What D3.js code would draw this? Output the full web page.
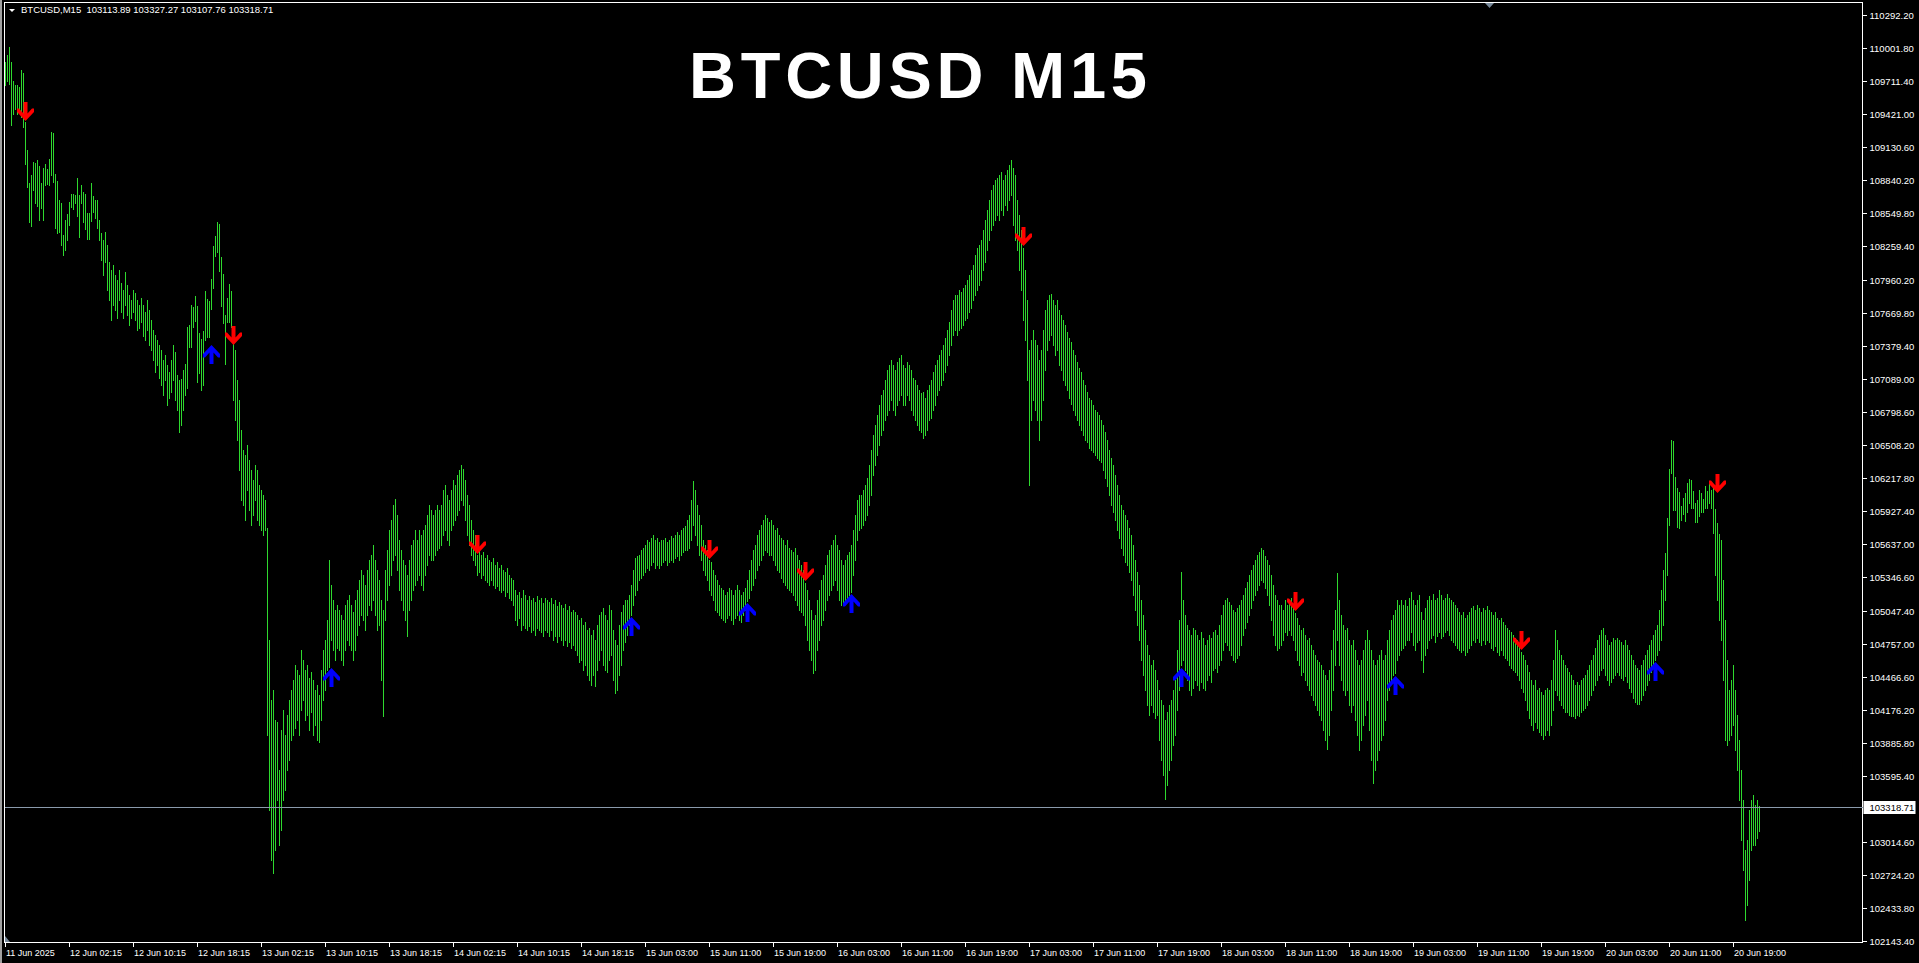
<!DOCTYPE html>
<html><head><meta charset="utf-8">
<script src="https://cdn.jsdelivr.net/npm/d3@7"></script>
<style>html,body{margin:0;padding:0;background:#000;overflow:hidden}</style>
</head><body>
<svg id="c" width="1919" height="963"></svg>
<script>
// ---- DATA (BTCUSD M15, one value per bar) ----
const highs = [
109878,109940,110010,109878,109711,109676,109676,109658,109808,109782,
109350,109104,108814,108884,108998,108990,109016,108963,108814,108946,
108981,108937,109025,109262,109254,108893,108831,108664,108638,108356,
108488,108541,108646,108717,108717,108708,108858,108708,108796,108734,
108717,108550,108550,108814,108699,108664,108664,108488,108374,108312,
108382,108268,108118,108048,108092,108004,107960,108048,107934,107872,
108030,107916,107828,107784,107872,107846,107784,107740,107802,107740,
107678,107784,107696,107608,107520,107476,107432,107388,107344,107256,
107300,107212,107150,107256,107388,107326,107124,107080,107089,107168,
107221,107546,107564,107740,107722,107819,107731,107494,107441,107511,
107863,107793,107775,107969,108259,108347,108470,108453,108162,108013,
107652,107802,107925,107863,107397,107344,107080,106904,106640,106464,
106420,106508,106376,106288,106200,106332,106288,106156,106112,106068,
106024,105778,104792,104264,104352,104088,104070,103648,104000,104176,
103956,104132,104264,104352,104440,104572,104528,104484,104704,104616,
104528,104572,104458,104510,104440,104352,104396,104308,104528,104704,
104792,104968,105496,105276,105144,105056,105100,105056,105012,104968,
105100,105144,105188,105100,105038,105144,105232,105320,105408,105364,
105276,105408,105496,105540,105628,105496,105408,105320,105144,105056,
105408,105584,105760,105848,105980,106033,105892,105672,105584,105496,
105452,105364,105496,105628,105672,105760,105672,105760,105716,105760,
105804,105892,105980,105936,105892,105936,105980,105936,105980,106112,
106156,106068,106024,106112,106200,106156,106244,106288,106332,106297,
106200,106068,105980,105848,105760,105716,105540,105584,105540,105566,
105514,105540,105496,105478,105514,105452,105478,105426,105452,105408,
105390,105426,105364,105338,105320,105232,105188,105214,105162,105232,
105188,105144,105179,105144,105162,105126,105179,105144,105162,105118,
105162,105144,105126,105162,105109,105144,105091,105126,105100,105074,
105109,105056,105091,105038,105056,105038,105012,104968,104986,104924,
104950,104880,104898,104836,104880,104792,104924,105012,105038,105074,
105012,104968,105100,105056,104880,104792,104748,104924,105038,105100,
105144,105144,105188,105276,105408,105514,105531,105540,105584,105602,
105628,105672,105654,105690,105716,105672,105690,105654,105672,105672,
105690,105654,105672,105707,105690,105716,105742,105716,105760,105778,
105795,105848,105892,106024,106191,106112,105980,105892,105804,105672,
105628,105584,105496,105478,105408,105364,105320,105276,105250,105232,
105188,105214,105250,105232,105188,105232,105276,105232,105188,105214,
105250,105320,105408,105496,105584,105628,105716,105760,105804,105848,
105892,105866,105830,105848,105804,105760,105778,105716,105690,105672,
105628,105672,105602,105584,105566,105602,105540,105496,105452,105408,
105294,105232,105144,105056,104968,105012,105144,105232,105320,105364,
105452,105540,105584,105628,105672,105716,105628,105584,105496,105452,
105496,105540,105566,105628,105760,105892,106024,106068,106068,106112,
106156,106218,106332,106464,106596,106684,106772,106860,106948,106992,
107080,107168,107212,107256,107212,107168,107238,107274,107300,107212,
107186,107238,107212,107168,107098,107080,107036,106992,106966,106974,
106922,106992,107036,107080,107150,107212,107256,107300,107344,107388,
107450,107520,107590,107696,107784,107828,107828,107872,107854,107890,
107916,107960,108004,108048,108092,108180,108242,108268,108312,108400,
108488,108576,108664,108752,108796,108840,108858,108884,108910,108840,
108884,108928,108972,109016,108946,108884,108664,108532,108400,108242,
108048,107784,107344,107432,107520,107432,107388,107256,107344,107520,
107696,107784,107828,107837,107784,107740,107784,107696,107652,107608,
107564,107502,107450,107414,107344,107300,107238,107186,107150,107080,
107036,106974,106922,106904,106860,106816,106798,106772,106728,106684,
106622,106552,106464,106394,106332,106244,106156,106068,105980,105936,
105892,105848,105778,105716,105628,105496,105390,105276,105144,105012,
104880,104748,104660,104572,104616,104528,104440,104352,104264,104220,
104088,104158,104220,104264,104352,104440,104704,104968,105390,105144,
105012,104924,104880,104836,104898,104880,104836,104792,104862,104810,
104748,104792,104836,104810,104862,104880,104836,104924,105012,105100,
105144,105162,105126,105100,105056,105038,105074,105100,105144,105188,
105250,105302,105364,105408,105452,105496,105540,105566,105602,105584,
105531,105496,105452,105364,105276,105188,105144,105100,105100,105056,
105144,105100,105144,105162,105100,105030,104986,104924,104880,104898,
104836,104792,104810,104748,104704,104660,104616,104598,104572,104528,
104484,104440,104528,104704,104880,105056,105382,105144,105012,104924,
104880,104898,104792,104748,104792,104704,104616,104572,104616,104704,
104792,104880,104792,104704,104616,104572,104616,104660,104704,104616,
104660,104792,104880,104968,105012,105056,105144,105100,105144,105100,
105144,105091,105162,105214,105144,105100,105144,105188,105038,104968,
105074,105144,105179,105144,105197,105144,105162,105232,105188,105144,
105162,105197,105162,105144,105126,105100,105074,105038,105012,105038,
104986,105012,105038,105074,105091,105056,105100,105074,105038,105074,
105056,105091,105056,105038,105012,105038,104986,104968,104986,104950,
104924,104898,104880,104862,104836,104810,104792,104748,104686,104660,
104616,104572,104510,104440,104396,104440,104352,104370,104334,104308,
104352,104370,104352,104440,104616,104880,104792,104704,104660,104616,
104572,104546,104510,104484,104440,104396,104422,104396,104440,104458,
104484,104528,104572,104616,104660,104722,104792,104836,104880,104898,
104836,104792,104748,104774,104810,104792,104810,104792,104774,104748,
104792,104748,104704,104660,104616,104572,104546,104528,104572,104616,
104660,104704,104748,104792,104836,104880,104924,105056,105232,105408,
105558,105866,106297,106552,106543,106226,106130,106094,105971,106042,
106086,106174,106209,106200,106103,105998,106024,106112,106086,106033,
106147,106103,106191,106112,106130,105945,105822,105725,105672,105320,
104968,104616,104352,104440,104572,104352,104132,103912,103648,103384,
102944,103032,103296,103384,103428,103340,103384,103327.27
];
const lows = [
109676,109711,109685,109324,109421,109465,109421,109447,109394,109306,
108981,108778,108470,108435,108752,108638,108611,108488,108594,108488,
108796,108805,108796,108884,108822,108418,108374,108382,108268,108180,
108224,108312,108444,108602,108585,108638,108523,108338,108638,108470,
108409,108321,108321,108479,108558,108506,108418,108312,108136,108004,
108118,107872,107784,107608,107740,107696,107626,107784,107678,107626,
107740,107652,107564,107626,107678,107608,107520,107538,107590,107467,
107432,107520,107388,107344,107256,107150,107212,107098,107036,106948,
107080,106860,106922,106974,107080,106904,106816,106622,106684,106816,
106948,107010,107370,107370,107546,107599,107062,107142,106992,107036,
107432,107458,107458,107705,107890,108171,108206,108039,107731,107582,
107221,107590,107590,107546,106904,106728,106552,106288,106024,105980,
105848,106112,105936,105804,105892,106024,105848,105804,105760,105716,
105760,103956,103296,102856,102742,102944,103384,102988,103120,103384,
103472,103648,103736,103912,103956,104018,104088,103956,104176,104264,
104088,104132,104000,104158,103956,104044,103912,103894,104088,104264,
104352,104528,104554,104792,104704,104616,104722,104704,104616,104572,
104704,104792,104748,104704,104616,104704,104836,104924,105012,104968,
104880,105012,105100,105056,105144,105012,104880,104924,104440,104123,
104968,105144,105276,105364,105496,105540,105408,105232,105144,105056,
104968,104827,105056,105144,105232,105276,105320,105364,105276,105232,
105364,105452,105540,105496,105496,105540,105584,105602,105628,105716,
105760,105672,105628,105760,105804,105848,105892,105936,106024,105980,
105848,105716,105628,105540,105496,105452,105364,105390,105338,105364,
105320,105302,105276,105320,105276,105250,105267,105232,105214,105232,
105179,105214,105162,105144,105100,104968,104924,104986,104880,104924,
104898,104880,104915,104862,104880,104836,104898,104880,104862,104827,
104880,104862,104827,104880,104792,104827,104774,104827,104792,104748,
104792,104739,104774,104722,104748,104704,104660,104598,104616,104528,
104572,104484,104440,104396,104484,104387,104528,104616,104704,104572,
104528,104510,104616,104660,104440,104326,104352,104484,104572,104704,
104774,104836,104924,105012,105100,105188,105232,105320,105338,105364,
105390,105426,105408,105452,105478,105426,105452,105426,105452,105478,
105496,105452,105478,105496,105478,105514,105531,105496,105540,105566,
105584,105584,105602,105672,105804,105716,105628,105540,105496,105408,
105364,105320,105232,105188,105144,105056,105038,105012,104986,104968,
104950,104986,105012,104968,104933,104986,105012,104968,104950,105012,
105056,105135,105162,105232,105276,105338,105408,105452,105496,105540,
105584,105566,105540,105540,105496,105452,105408,105390,105338,105302,
105276,105250,105232,105214,105188,105144,105100,105056,105038,105012,
104924,104792,104704,104616,104502,104528,104704,104792,104924,104968,
105056,105144,105188,105232,105276,105320,105232,105144,105100,105100,
105144,105162,105188,105214,105364,105496,105672,105760,105778,105804,
105848,105892,105980,106068,106244,106332,106420,106508,106596,106640,
106728,106772,106816,106904,106816,106772,106860,106904,106948,106860,
106860,106948,106904,106816,106772,106728,106684,106640,106622,106570,
106596,106640,106728,106746,106816,106860,106948,106992,107036,107080,
107150,107212,107300,107388,107476,107520,107476,107520,107538,107564,
107608,107626,107678,107714,107784,107828,107872,107916,107960,108048,
108118,108224,108312,108400,108444,108488,108532,108488,108576,108532,
108620,108576,108664,108708,108444,108312,108224,108048,107872,107608,
107432,107080,106156,106728,106904,106816,106728,106552,106728,106904,
107168,107344,107432,107476,107388,107300,107344,107212,107168,107080,
107036,106992,106922,106869,106816,106772,106728,106684,106640,106596,
106552,106534,106482,106464,106446,106420,106394,106376,106358,106288,
106218,106147,106068,105980,105918,105848,105760,105690,105602,105540,
105478,105452,105390,105320,105188,105056,104924,104792,104616,104484,
104352,104220,104132,104220,104158,104106,104132,103912,103736,103604,
103393,103516,103648,103736,103868,103956,104176,104352,104572,104616,
104528,104440,104352,104308,104370,104440,104396,104352,104422,104370,
104352,104440,104484,104422,104528,104546,104510,104572,104616,104704,
104774,104748,104704,104660,104616,104598,104634,104660,104748,104836,
104898,104950,105012,105074,105144,105188,105232,105276,105320,105302,
105250,105188,105100,104968,104836,104748,104704,104722,104748,104792,
104862,104836,104880,104836,104792,104704,104616,104572,104484,104510,
104440,104396,104352,104308,104264,104220,104176,104132,104088,104000,
103912,103833,103956,104176,104352,104572,104792,104572,104440,104352,
104308,104352,104220,104158,104220,104088,103956,103824,103912,104044,
104132,104264,104000,103736,103534,103648,103736,103824,103912,103956,
104088,104264,104352,104440,104484,104502,104616,104660,104704,104722,
104748,104792,104792,104862,104748,104704,104774,104792,104616,104510,
104660,104722,104792,104810,104836,104774,104827,104862,104810,104827,
104862,104880,104836,104792,104774,104748,104722,104704,104686,104704,
104660,104686,104722,104748,104792,104774,104810,104774,104748,104792,
104757,104792,104774,104722,104704,104739,104686,104660,104704,104660,
104634,104616,104572,104546,104528,104510,104484,104440,104370,104334,
104264,104176,104106,104044,104000,104070,104018,103982,103956,103921,
103956,104000,103956,104044,104176,104352,104308,104264,104220,104194,
104158,104158,104132,104123,104123,104106,104132,104123,104158,104176,
104194,104220,104264,104308,104352,104396,104440,104484,104528,104546,
104484,104440,104396,104422,104458,104484,104510,104484,104458,104440,
104475,104422,104370,104334,104282,104246,104229,104229,104264,104308,
104352,104396,104440,104510,104572,104616,104660,104704,104792,104924,
105144,105364,105804,106262,105936,105936,105786,105778,105848,105901,
105839,105918,105998,105954,105954,105830,105830,105883,105918,105918,
105954,105954,105998,105954,105734,105364,105144,104968,104792,104440,
103912,103868,103912,103956,104044,103824,103648,103384,103032,102768,
102328,102460,102680,102944,102988,102988,103050,103107.76
];
const lastOHLC = [103113.89, 103327.27, 103107.76, 103318.71];
const symbolName = "BTCUSD,M15";
const chartTitle = "BTCUSD M15";
const priceTicks = [110292.20,110001.80,109711.40,109421.00,109130.60,108840.20,108549.80,
  108259.40,107960.20,107669.80,107379.40,107089.00,106798.60,106508.20,106217.80,105927.40,
  105637.00,105346.60,105047.40,104757.00,104466.60,104176.20,103885.80,103595.40,
  103014.60,102724.20,102433.80,102143.40];
const timeLabels = ["11 Jun 2025","12 Jun 02:15","12 Jun 10:15","12 Jun 18:15","13 Jun 02:15",
  "13 Jun 10:15","13 Jun 18:15","14 Jun 02:15","14 Jun 10:15","14 Jun 18:15","15 Jun 03:00",
  "15 Jun 11:00","15 Jun 19:00","16 Jun 03:00","16 Jun 11:00","16 Jun 19:00","17 Jun 03:00",
  "17 Jun 11:00","17 Jun 19:00","18 Jun 03:00","18 Jun 11:00","18 Jun 19:00","19 Jun 03:00",
  "19 Jun 11:00","19 Jun 19:00","20 Jun 03:00","20 Jun 11:00","20 Jun 19:00"];
const timeLabelBars = [0,32,64,96,128,160,192,224,256,288,320,352,384,416,448,480,512,544,576,
  608,640,672,704,736,768,800,832,864];
const sellBars   = [10,114,236,352,400,509,645,758,856];
const sellPrices = [109359,107388,105549,105505,105311,108259,105047,104704,106086];
const buyBars    = [103,163,313,371,423,588,695,825];
const buyPrices  = [107388,104546,104994,105118,105197,104546,104475,104598];

// ---- DRAW ----
const W = 1919, H = 963;
const FONT = "'Liberation Sans', Arial, sans-serif";
const svg = d3.select('#c');
svg.append('rect').attr('width', W).attr('height', H).attr('fill', '#000');
svg.append('rect').attr('x', 0).attr('y', 0).attr('width', 2).attr('height', H).attr('fill', '#a0a0a0');

const P = {left: 4.5, right: 1862.5, top: 2.5, bottom: 942.5};
const x = d3.scaleLinear().domain([0, 1]).range([5.5, 7.5]);
const y = d3.scaleLinear().domain([102143.4, 110292.2]).range([941, 15]);

// frame
svg.append('rect').attr('x', P.left).attr('y', P.top)
  .attr('width', P.right - P.left).attr('height', P.bottom - P.top)
  .attr('fill', 'none').attr('stroke', '#fff').attr('shape-rendering', 'crispEdges');

// bars
const n = Math.min(highs.length, lows.length);
svg.append('g').attr('shape-rendering', 'crispEdges')
  .selectAll('line').data(d3.range(n)).join('line')
  .attr('x1', i => x(i)).attr('x2', i => x(i))
  .attr('y1', i => Math.round(y(highs[i])))
  .attr('y2', i => Math.round(y(lows[i])) + 1)
  .attr('stroke', '#2ed82e').attr('stroke-width', 1);

// current price line
const cy = Math.round(y(lastOHLC[3])) + 0.5;
svg.append('line').attr('x1', P.left).attr('x2', P.right).attr('y1', cy).attr('y2', cy)
  .attr('stroke', '#8a9aab').attr('shape-rendering', 'crispEdges');

// y axis
const yAxis = d3.axisRight(y).tickValues(priceTicks).tickSize(4).tickFormat(d3.format('.2f'));
const gy = svg.append('g').attr('transform', `translate(${P.right},0)`).call(yAxis);
gy.select('.domain').remove();
gy.selectAll('.tick line').attr('stroke', '#fff').attr('shape-rendering', 'crispEdges');
gy.selectAll('.tick text').attr('fill', '#fff').attr('x', 7)
  .style('font-family', FONT).style('font-size', '9.5px');

// current price label
svg.append('rect').attr('x', P.right + 1).attr('y', cy - 6.5).attr('width', 52).attr('height', 13)
  .attr('fill', '#fff');
svg.append('text').attr('x', P.right + 7).attr('y', cy).attr('dy', '0.35em')
  .attr('fill', '#000').style('font-family', FONT).style('font-size', '9.5px')
  .text(d3.format('.2f')(lastOHLC[3]));

// x axis
const xAxis = d3.axisBottom(x).tickValues(timeLabelBars).tickSize(4)
  .tickFormat((d, i) => timeLabels[i]);
const gx = svg.append('g').attr('transform', `translate(-1,${P.bottom})`).call(xAxis);
gx.select('.domain').remove();
gx.selectAll('.tick line').attr('stroke', '#fff').attr('shape-rendering', 'crispEdges');
gx.selectAll('.tick text').attr('fill', '#fff').attr('text-anchor', 'start')
  .attr('x', 1).attr('y', 7).attr('dy', '0.71em')
  .style('font-family', FONT).style('font-size', '9px');

// arrows
const downPath = 'M-2,-19L2,-19L2,-7.5L6.5,-12.5L8.5,-12.5L8.5,-9L0,0L-8.5,-9L-8.5,-12.5L-6.5,-12.5L-2,-7.5Z';
const upPath = 'M-2,19L2,19L2,7.5L6.5,12.5L8.5,12.5L8.5,9L0,0L-8.5,9L-8.5,12.5L-6.5,12.5L-2,7.5Z';
svg.append('g').selectAll('path').data(sellBars).join('path')
  .attr('d', downPath).attr('fill', '#ff0000')
  .attr('transform', (b, i) => `translate(${x(b)},${y(sellPrices[i])})`);
svg.append('g').selectAll('path').data(buyBars).join('path')
  .attr('d', upPath).attr('fill', '#0000ff')
  .attr('transform', (b, i) => `translate(${x(b)},${y(buyPrices[i])})`);

// header
svg.append('path').attr('d', 'M9,9L15,9L12,12Z').attr('fill', '#fff');
svg.append('text').attr('x', 21).attr('y', 13).attr('fill', '#fff')
  .style('font-family', FONT).style('font-size', '9.5px').style('white-space', 'pre')
  .text(symbolName + '  ' + lastOHLC.map(d3.format('.2f')).join(' '));

// shift markers
svg.append('path').attr('d', 'M1485,3L1494,3L1489.5,8Z').attr('fill', '#778899');
svg.append('path').attr('d', 'M5,936L5,942L10,942Z').attr('fill', '#778899');

// title
svg.append('text').attr('x', 918).attr('y', 98).attr('text-anchor', 'middle')
  .attr('fill', '#fff').attr('textLength', 458).attr('lengthAdjust', 'spacing')
  .style('font-family', FONT).style('font-weight', 'bold').style('font-size', '65px')
  .text(chartTitle);
</script>
</body></html>
